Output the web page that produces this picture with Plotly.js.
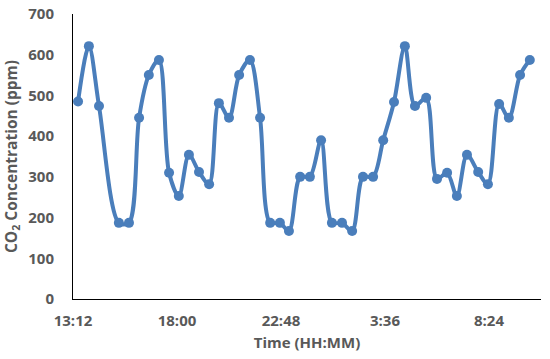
<!DOCTYPE html>
<html>
<head>
<meta charset="utf-8">
<script src="https://cdn.plot.ly/plotly-3.0.1.min.js"></script>
<style>html,body{margin:0;padding:0;background:#fff;}#chart{width:550px;height:359px;}</style>
</head>
<body>
<div id="chart"></div>
<script>
// Time of each reading (day 1 = afternoon/evening, day 2 = after midnight)
var times = [
  "2020-01-01 13:26","2020-01-01 13:56","2020-01-01 14:24","2020-01-01 15:19","2020-01-01 15:47",
  "2020-01-01 16:15","2020-01-01 16:42","2020-01-01 17:10","2020-01-01 17:38","2020-01-01 18:05",
  "2020-01-01 18:33","2020-01-01 19:01","2020-01-01 19:29","2020-01-01 19:56","2020-01-01 20:24",
  "2020-01-01 20:52","2020-01-01 21:22","2020-01-01 21:50","2020-01-01 22:18","2020-01-01 22:45",
  "2020-01-01 23:10","2020-01-01 23:41","2020-01-02 00:08","2020-01-02 00:39","2020-01-02 01:09",
  "2020-01-02 01:37","2020-01-02 02:05","2020-01-02 02:35","2020-01-02 03:03","2020-01-02 03:31",
  "2020-01-02 04:01","2020-01-02 04:31","2020-01-02 04:59","2020-01-02 05:30","2020-01-02 06:00",
  "2020-01-02 06:28","2020-01-02 06:55","2020-01-02 07:23","2020-01-02 07:54","2020-01-02 08:21",
  "2020-01-02 08:52","2020-01-02 09:19","2020-01-02 09:50","2020-01-02 10:17"
];
// CO2 concentration (ppm)
var co2 = [
  485,621,474,187,187,
  445,550,587,310,253,
  354,312,282,481,445,
  550,587,445,187,187,
  167,300,300,390,187,
  187,167,300,300,390,
  484,621,474,494,295,
  310,253,354,312,282,
  479,445,550,587
];
var xRange = ["2020-01-01 13:12","2020-01-02 10:48"];
var yRange = [0,700];

var blue = "#4a7ebb";
var fontFam = "'Open Sans', 'Noto Sans', sans-serif";
var tf = {family: fontFam, size: 15, color: "#595959", weight: "bold"};

Plotly.newPlot("chart", [{
  x: times, y: co2,
  type: "scatter", mode: "lines+markers",
  line: {color: blue, width: 4, shape: "spline", smoothing: 0.9},
  marker: {color: blue, size: 10},
  hoverinfo: "none"
}], {
  width: 550, height: 359,
  margin: {l: 73, r: 9, t: 14, b: 60},
  paper_bgcolor: "#fff", plot_bgcolor: "#fff",
  showlegend: false,
  font: tf,
  xaxis: {
    type: "date", range: xRange,
    tick0: "2020-01-01 13:12", dtick: 17280000,
    tickformat: "%-H:%M",
    showgrid: false, zeroline: false,
    showline: true, linecolor: "#000", linewidth: 1,
    ticks: "", ticklabelstandoff: 8,
    tickfont: tf,
    title: {text: "Time (HH:MM)", standoff: 8, font: tf}
  },
  yaxis: {
    range: yRange, dtick: 100,
    showgrid: false, zeroline: false,
    showline: true, linecolor: "#000", linewidth: 1,
    ticks: "", ticklabelstandoff: 15,
    tickfont: tf,
    title: {text: "CO<sub>2</sub> Concentration (ppm)", standoff: 7, font: {family: fontFam, size: 15.5, color: "#595959", weight: "bold"}}
  }
}, {displayModeBar: false, staticPlot: true});
</script>
</body>
</html>
